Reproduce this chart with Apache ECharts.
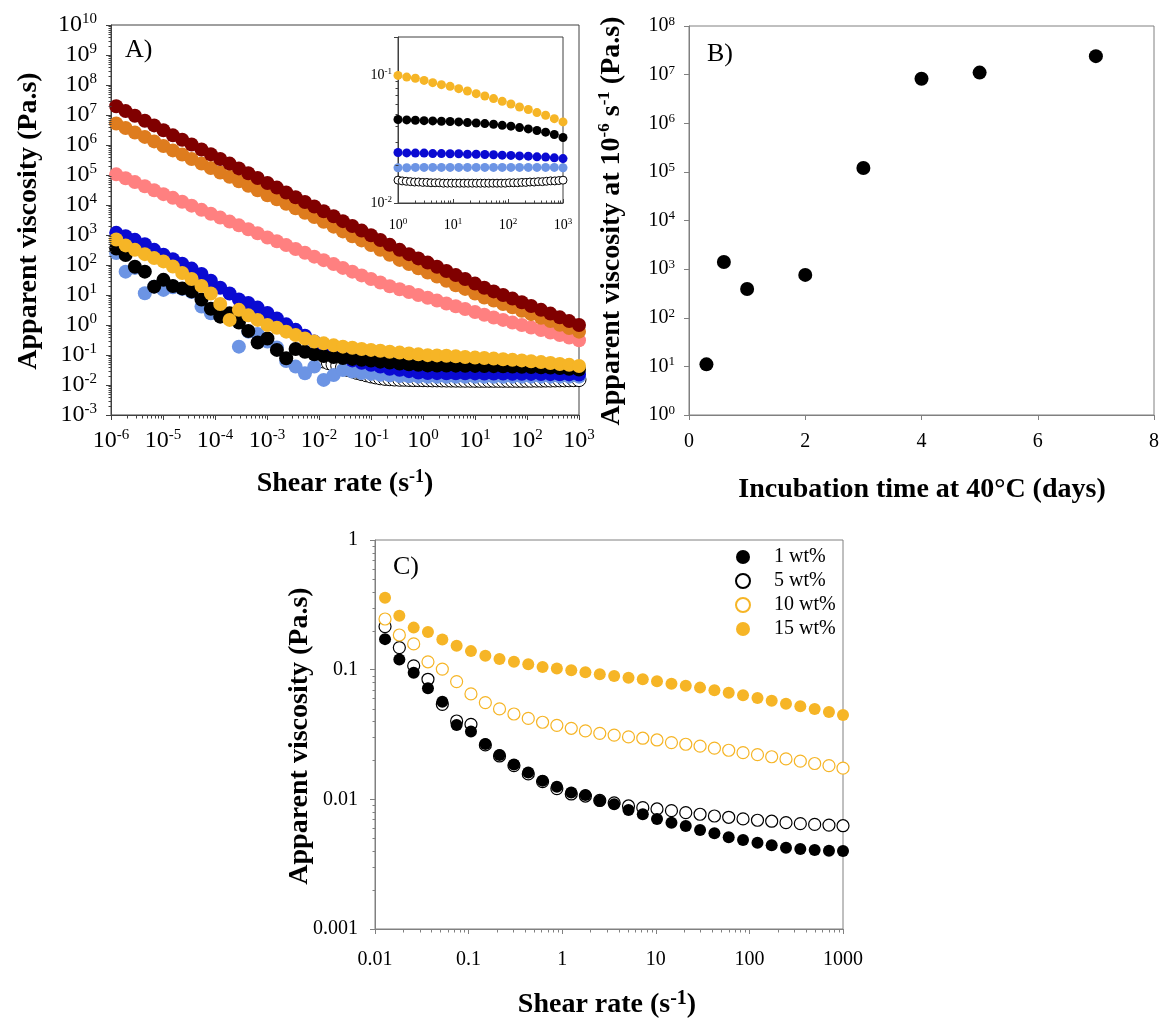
<!DOCTYPE html>
<html><head><meta charset="utf-8">
<script src="https://cdn.jsdelivr.net/npm/echarts@6/dist/echarts.min.js"></script>
<style>html,body{margin:0;padding:0;background:#fff}#c{width:1162px;height:1023px}</style>
</head><body><div id="c"></div><script>
// ---------------- DATA ----------------
// Panel A: shear-rate sweep (x: shear rate, s^-1)
const aX = [1.26e-6,1.91e-6,2.88e-6,4.47e-6,6.76e-6,1.02e-5,1.55e-5,2.34e-5,3.55e-5,5.50e-5,8.32e-5,1.26e-4,1.91e-4,2.88e-4,4.37e-4,6.61e-4,1.02e-3,1.55e-3,2.34e-3,3.55e-3,5.37e-3,8.13e-3,1.23e-2,1.91e-2,2.88e-2,4.37e-2,6.61e-2,0.100,0.151,0.229,0.355,0.537,0.813,1.23,1.86,2.82,4.27,6.46,10.0,15.1,22.9,34.7,52.5,79.4,120,186,282,427,646,1000];
const aDarkRed = [1.95e7,1.35e7,9.4e6,6.4e6,4.5e6,3.1e6,2.1e6,1.5e6,1.04e6,7.1e5,4.9e5,3.4e5,2.4e5,1.66e5,1.15e5,7.9e4,5.4e4,3.8e4,2.6e4,1.82e4,1.26e4,8.9e3,6.2e3,4.2e3,2.9e3,2.0e3,1.4e3,980,680,470,320,230,166,120,87,63,46,34,24,17.4,13.2,10,7.6,5.7,4.3,3.2,2.4,1.8,1.35,1.0];
const aOrange = [5.2e6,3.7e6,2.6e6,1.86e6,1.32e6,9.3e5,6.6e5,4.8e5,3.4e5,2.4e5,1.7e5,1.2e5,8.7e4,6.2e4,4.4e4,3.1e4,2.1e4,1.55e4,1.1e4,7.8e3,5.5e3,4.0e3,2.75e3,1.9e3,1.32e3,910,660,460,320,220,148,107,78,56,41,30,21,16,11.2,8.3,6.5,5.0,3.9,3.0,2.3,1.74,1.35,1.02,0.79,0.60];
const aSalmon = [1.05e5,7.8e4,5.8e4,4.2e4,3.1e4,2.3e4,1.73e4,1.28e4,9.5e3,6.9e3,5.1e3,3.8e3,2.8e3,2.1e3,1.55e3,1.15e3,830,620,460,340,255,190,145,107,80,60,45,34,26,19.5,15.5,12.6,10,8.1,6.5,5.2,4.2,3.4,2.7,2.2,1.78,1.48,1.2,1.0,0.83,0.68,0.56,0.46,0.38,0.31];
const aBlue = [1180,910,690,490,320,220,155,110,76,50,30,17.4,11.2,7.1,5.4,3.8,2.5,1.66,1.05,0.69,0.44,0.28,0.186,0.126,0.089,0.066,0.055,0.047,0.041,0.035,0.032,0.029,0.026,0.0249,0.0248,0.0247,0.0246,0.0245,0.0244,0.0243,0.0241,0.0240,0.0238,0.0236,0.0234,0.0232,0.0230,0.0228,0.0226,0.0223];
const aBlack = [355,214,87,60,19,32,20,16.6,13.2,7.1,3.5,1.9,2.45,1.2,0.63,0.26,0.355,0.148,0.078,0.158,0.129,0.105,0.093,0.085,0.079,0.074,0.069,0.065,0.060,0.056,0.052,0.049,0.047,0.045,0.0448,0.0445,0.0442,0.0438,0.0434,0.043,0.0425,0.042,0.0414,0.0408,0.040,0.0391,0.038,0.0367,0.0348,0.0326];
const aLightBlue = [250,60,80,11.5,19,14.8,18,16,12.6,4.1,2.45,2.0,2.3,0.19,0.6,0.5,0.28,0.178,0.063,0.041,0.0245,0.041,0.0148,0.0214,0.0316,0.028,0.025,0.0234,0.0219,0.0209,0.020,0.0195,0.019,0.0189,0.0189,0.0189,0.0189,0.0189,0.0189,0.0189,0.0189,0.0189,0.019,0.019,0.019,0.019,0.019,0.019,0.019,0.019];
const aYellow = [710,450,320,230,170,132,89,54,34,20,11.2,5.0,1.48,3.2,2.1,1.48,1.0,0.81,0.60,0.46,0.355,0.28,0.245,0.21,0.19,0.174,0.158,0.148,0.138,0.129,0.120,0.112,0.105,0.099,0.097,0.094,0.090,0.086,0.082,0.079,0.076,0.072,0.069,0.066,0.062,0.058,0.054,0.050,0.047,0.043];
const aWhiteX = [0.0123,0.0151,0.0186,0.0229,0.0282,0.0355,0.0437,0.0537,0.0661,0.0813,0.100,0.123,0.151,0.186,0.229,0.282,0.355,0.437,0.537,0.661,0.813,1.00,1.23,1.51,1.86,2.29,2.82,3.47,4.27,5.25,6.46,8.13,10.0,12.3,15.1,18.6,22.9,28.2,34.7,42.7,52.5,64.6,79.4,97.7,120,151,186,229,282,347,427,525,646,794,1000];
const aWhite = [0.063,0.056,0.049,0.044,0.038,0.033,0.0295,0.0263,0.024,0.0219,0.020,0.0186,0.0174,0.0166,0.0162,0.0158,0.0155,0.0155,0.0153,0.0151,0.0151,0.0150,0.0149,0.0148,0.0148,0.0147,0.0146,0.0146,0.0145,0.0145,0.0144,0.0144,0.0143,0.0143,0.0143,0.0143,0.0143,0.0143,0.0143,0.0143,0.0143,0.0143,0.0143,0.0144,0.0144,0.0145,0.0145,0.0146,0.0146,0.0147,0.0148,0.0148,0.0149,0.0150,0.0151];

// Panel A inset (x: 1..1000 s^-1)
const insX = [1,1.44,2.07,2.98,4.28,6.16,8.86,12.7,18.3,26.4,37.9,54.6,78.5,113,162,234,336,483,695,1000];
const insYellow = [0.100,0.097,0.095,0.0914,0.0877,0.0846,0.0821,0.0787,0.0755,0.0719,0.069,0.0658,0.0626,0.0597,0.0566,0.054,0.0511,0.0487,0.0458,0.0432];
const insBlack = [0.0451,0.0448,0.0445,0.0442,0.0440,0.0437,0.0435,0.0432,0.0427,0.0424,0.0419,0.0414,0.0406,0.0400,0.039,0.0381,0.037,0.0359,0.0344,0.0326];
const insBlue = [0.0249,0.0247,0.0246,0.0246,0.0244,0.0244,0.0243,0.0243,0.0241,0.0241,0.0240,0.0239,0.0237,0.0236,0.0234,0.0233,0.0230,0.0229,0.0226,0.0223];
const insLightBlue = [0.0189,0.0189,0.019,0.019,0.019,0.019,0.019,0.019,0.019,0.019,0.019,0.019,0.019,0.019,0.019,0.019,0.019,0.019,0.019,0.0189];
const insWhiteX = [1,1.19,1.41,1.68,2.0,2.37,2.82,3.35,3.98,4.73,5.62,6.68,7.94,9.44,11.2,13.3,15.8,18.8,22.4,26.6,31.6,37.6,44.7,53.1,63.1,75.0,89.1,106,126,150,178,211,251,299,355,422,501,596,708,841,1000];
const insWhite = [0.0151,0.0149,0.0148,0.0147,0.0146,0.0146,0.0145,0.0145,0.0144,0.0144,0.0144,0.0143,0.0143,0.0143,0.0143,0.0143,0.0143,0.0143,0.0143,0.0143,0.0143,0.0143,0.0143,0.0143,0.0143,0.0143,0.0143,0.0144,0.0144,0.0144,0.0145,0.0145,0.0146,0.0146,0.0147,0.0147,0.0148,0.0149,0.0149,0.0150,0.0151];

// Panel B: viscosity at 1e-6 s^-1 vs incubation time
const bDays = [0.3,0.6,1,2,3,4,5,7];
const bVisc = [11,1400,390,760,1.2e5,8.2e6,1.1e7,2.4e7];

// Panel C: concentration series
const cX = [0.0128,0.0182,0.0259,0.0368,0.0524,0.0745,0.106,0.151,0.214,0.305,0.434,0.617,0.877,1.25,1.77,2.52,3.59,5.11,7.26,10.3,14.7,20.9,29.7,42.3,60.1,85.5,122,173,246,350,498,708,1000];
const c1 = [0.172,0.120,0.0948,0.0718,0.0566,0.0375,0.0333,0.0267,0.0220,0.0186,0.0161,0.0139,0.0125,0.0113,0.0108,0.00977,0.00916,0.00828,0.00767,0.00706,0.00661,0.00623,0.00581,0.00547,0.00509,0.00486,0.00463,0.00442,0.00424,0.00414,0.00407,0.00402,0.0040];
const c5 = [0.215,0.148,0.107,0.0843,0.054,0.0402,0.0379,0.0263,0.0216,0.0182,0.0157,0.0137,0.0121,0.0110,0.0106,0.0098,0.0094,0.00889,0.00863,0.00843,0.00818,0.00789,0.00767,0.00744,0.00727,0.00706,0.0069,0.00678,0.00661,0.00649,0.00641,0.00633,0.00626];
const c10 = [0.246,0.185,0.158,0.115,0.101,0.0809,0.065,0.0557,0.0498,0.0455,0.0421,0.0393,0.0372,0.0353,0.0337,0.0323,0.0313,0.0303,0.0296,0.0287,0.0274,0.0266,0.0257,0.0248,0.0239,0.0229,0.0221,0.0213,0.0205,0.0197,0.0189,0.0182,0.0174];
const c15 = [0.359,0.261,0.211,0.195,0.171,0.153,0.139,0.128,0.121,0.115,0.110,0.105,0.102,0.0988,0.0955,0.092,0.0894,0.0867,0.0843,0.0813,0.078,0.0753,0.0727,0.0694,0.0665,0.0634,0.0605,0.0577,0.0547,0.0522,0.0498,0.0472,0.0448];
const cLegend = ['1 wt%','5 wt%','10 wt%','15 wt%'];

// Tick labels / tick values
const aYTickVals = [1e-3,1e-2,1e-1,1e0,1e1,1e2,1e3,1e4,1e5,1e6,1e7,1e8,1e9,1e10];
const cXTicks = ['0.01','0.1','1','10','100','1000'];
const cYTicks = ['0.001','0.01','0.1','1'];
const bXTicks = ['0','2','4','6','8'];

// ---------------- STYLE ----------------
const SERIF = '"Liberation Serif","Times New Roman",serif';
const A_AX = '#404040', BC_AX = '#808080';
const COL = {darkred:'#800000', orange:'#de7c1e', salmon:'#ff8080', blue:'#0a0ad2', lightblue:'#6c94e4', black:'#000000', yellow:'#f6b526'};

function pairs(xs, ys){ return xs.map((x,i)=>[x, ys[i]]); }
function pow10(v){ const e=Math.log10(v), r=Math.round(e); if(Math.abs(e-r)>1e-6) return ''; return '10{sup|'+r+'}'; }
function lookup(list){ return v => { for(const s of list){ if(Math.abs(Math.log10(v)-Math.log10(parseFloat(s)))<1e-6) return s; } return ''; }; }

function logAxis(grid, min, max, split, color, lab, tickLen, inside){
  return {type:'log', logBase:10, gridIndex:grid, min, max, splitNumber:split,
    axisLine:{show:true, onZero:false, lineStyle:{color, width:1}},
    axisTick:{show:true, inside:!!inside, length:tickLen, lineStyle:{color, width:1}},
    splitLine:{show:false}, minorTick:{show:false},
    axisLabel:lab};
}
function supLabel(size, supSize, margin, lh){
  return {formatter:pow10, fontFamily:SERIF, fontSize:size, color:'#000', margin, lineHeight:lh,
    rich:{sup:{fontFamily:SERIF, fontSize:supSize, color:'#000', verticalAlign:'top', lineHeight:supSize}}};
}
function minorVals(e0, e1, max){
  const out=[]; for(let e=e0;e<e1;e++){ for(let k=2;k<=9;k++){ const v=k*Math.pow(10,e); if(v<=max*1.0001) out.push(v);} } return out;
}
function minorSeries(xi, yi, which, vals, fixed, len, color){
  return {type:'custom', xAxisIndex:xi, yAxisIndex:yi, silent:true, clip:false, z:3, animation:false,
    data: vals.map(v => which==='x' ? [v, fixed] : [fixed, v]),
    renderItem:(params, api)=>{
      const p = api.coord([api.value(0), api.value(1)]);
      const x = Math.round(p[0])+0.5, y = Math.round(p[1])+0.5;
      const shape = which==='x' ? {x1:x,y1:y,x2:x,y2:y+len} : {x1:x,y1:y,x2:x-len,y2:y};
      return {type:'line', shape, style:{stroke:color, lineWidth:1}};
    }};
}
// fallback: decade ticks + labels of panel A's y axis drawn through the axis scale
function majorYSeries(vals, fixedX, len, color, margin){
  return {type:'custom', xAxisIndex:0, yAxisIndex:0, silent:true, clip:false, z:3, animation:false,
    data: vals.map(v => [fixedX, v]),
    renderItem:(params, api)=>{
      const p = api.coord([api.value(0), api.value(1)]);
      const x = Math.round(p[0])+0.5, y = Math.round(p[1])+0.5;
      return {type:'group', children:[
        {type:'line', shape:{x1:x,y1:y,x2:x-len,y2:y}, style:{stroke:color, lineWidth:1}},
        {type:'text', x:p[0]-margin, y:p[1], style:{text:pow10(api.value(1)), fontFamily:SERIF, fontSize:24, fill:'#000',
          align:'right', verticalAlign:'middle', lineHeight:26,
          rich:{sup:{fontFamily:SERIF, fontSize:15, fill:'#000', verticalAlign:'top', lineHeight:15}}}}
      ]};
    }};
}
function scat(name, xi, data, size, fill, stroke, bw){
  return {type:'scatter', name, xAxisIndex:xi, yAxisIndex:xi, data, symbol:'circle', symbolSize:size,
    itemStyle:{color:fill, borderColor:stroke||fill, borderWidth:bw||0, opacity:1},
    emphasis:{disabled:true}, animation:false, z:2};
}

const chart = echarts.init(document.getElementById('c'), null, {renderer:'canvas'});
const aYAxis = logAxis(0, 1e-3, 1e10, 13, A_AX, supLabel(24, 15, 14, 26), 5);
aYAxis.interval = 1;
const option = {
  backgroundColor:'#ffffff',
  animation:false,
  grid:[
    {left:111, top:25, width:468, height:390, show:true, borderColor:A_AX, borderWidth:1, backgroundColor:'transparent'},
    {left:398, top:37, width:165, height:166, show:true, borderColor:A_AX, borderWidth:1, backgroundColor:'transparent'},
    {left:689, top:26, width:468, height:389, show:true, borderColor:BC_AX, borderWidth:1, backgroundColor:'transparent'},
    {left:375, top:540, width:468, height:389, show:true, borderColor:BC_AX, borderWidth:1, backgroundColor:'transparent'}
  ],
  xAxis:[
    logAxis(0, 1e-6, 1e3, 9, A_AX, supLabel(24, 15, 13, 26), 5),
    logAxis(1, 1, 1e3, 3, A_AX, supLabel(14, 9, 14, 16), 4, true),
    {type:'value', gridIndex:2, min:0, max:8, interval:2,
      axisLine:{show:true, onZero:false, lineStyle:{color:BC_AX}}, axisTick:{show:true, length:5, lineStyle:{color:BC_AX}},
      splitLine:{show:false}, axisLabel:{fontFamily:SERIF, fontSize:20, color:'#000', margin:17, formatter:v=>bXTicks[Math.round(v/2)] ?? ''}},
    logAxis(3, 0.01, 1000, 5, BC_AX, {fontFamily:SERIF, fontSize:20, color:'#000', margin:21, formatter:lookup(cXTicks)}, 5)
  ],
  yAxis:[
    aYAxis,
    logAxis(1, 0.01, 0.2, 2, A_AX, supLabel(14, 9, 6, 16), 4),
    logAxis(2, 1, 1e8, 8, BC_AX, supLabel(20, 13, 14, 22), 5),
    logAxis(3, 0.001, 1, 3, BC_AX, {fontFamily:SERIF, fontSize:20, color:'#000', margin:17, formatter:lookup(cYTicks)}, 5)
  ],
  legend:{data:cLegend, orient:'vertical', left:730, top:542, itemWidth:14, itemHeight:14, itemGap:4, icon:'circle',
    selectedMode:false, textStyle:{fontFamily:SERIF, fontSize:20, color:'#000', padding:[0,0,0,19]}},
  series:[
    // Panel A (bottom to top)
    scat('aWhite', 0, pairs(aWhiteX, aWhite), 14, '#ffffff', '#000000', 1),
    scat('aLightBlue', 0, pairs(aX, aLightBlue), 14, COL.lightblue),
    scat('aBlue', 0, pairs(aX, aBlue), 14, COL.blue),
    scat('aBlack', 0, pairs(aX, aBlack), 14, COL.black),
    scat('aYellow', 0, pairs(aX, aYellow), 14, COL.yellow),
    scat('aSalmon', 0, pairs(aX, aSalmon), 14, COL.salmon),
    scat('aOrange', 0, pairs(aX, aOrange), 14, COL.orange),
    scat('aDarkRed', 0, pairs(aX, aDarkRed), 14, COL.darkred),
    // Inset
    scat('iWhite', 1, pairs(insWhiteX, insWhite), 8, '#ffffff', '#000000', 1),
    scat('iLightBlue', 1, pairs(insX, insLightBlue), 9, COL.lightblue),
    scat('iBlue', 1, pairs(insX, insBlue), 9, COL.blue),
    scat('iBlack', 1, pairs(insX, insBlack), 9, COL.black),
    scat('iYellow', 1, pairs(insX, insYellow), 9, COL.yellow),
    // Panel B
    scat('bVisc', 2, pairs(bDays, bVisc), 14, '#000000'),
    // Panel C
    scat('5 wt%', 3, pairs(cX, c5), 12, '#ffffff', '#000000', 1.2),
    scat('1 wt%', 3, pairs(cX, c1), 12, '#000000'),
    scat('10 wt%', 3, pairs(cX, c10), 12, '#ffffff', COL.yellow, 1.2),
    scat('15 wt%', 3, pairs(cX, c15), 12, COL.yellow),
    // minor log ticks
    minorSeries(0, 0, 'x', minorVals(-6, 3, 1e3), 1e-3, 3, A_AX),
    minorSeries(0, 0, 'y', minorVals(-3, 10, 1e10), 1e-6, 3, A_AX),
    minorSeries(1, 1, 'x', minorVals(0, 3, 1e3), 0.01, -3, A_AX),
    minorSeries(1, 1, 'y', minorVals(-2, 0, 0.2), 1, 3, A_AX),
    minorSeries(3, 3, 'x', minorVals(-2, 3, 1e3), 0.001, 3, BC_AX),
    minorSeries(3, 3, 'y', minorVals(-3, 0, 1), 0.01, 3, BC_AX)
  ],
  graphic:[
    {type:'text', x:125, y:50, style:{text:'A)', fontFamily:SERIF, fontSize:26, fill:'#000', align:'left', verticalAlign:'middle'}},
    {type:'text', x:707, y:54, style:{text:'B)', fontFamily:SERIF, fontSize:26, fill:'#000', align:'left', verticalAlign:'middle'}},
    {type:'text', x:393, y:567, style:{text:'C)', fontFamily:SERIF, fontSize:26, fill:'#000', align:'left', verticalAlign:'middle'}},
    {type:'text', x:29, y:221, rotation:Math.PI/2, style:{text:'Apparent viscosity (Pa.s)', fontFamily:SERIF, fontWeight:'bold', fontSize:28, fill:'#000', align:'center', verticalAlign:'middle'}},
    {type:'text', x:345, y:484, style:{text:'Shear rate (s{sup|-1})', fontFamily:SERIF, fontWeight:'bold', fontSize:28, fill:'#000', align:'center', verticalAlign:'middle', lineHeight:32,
      rich:{sup:{fontFamily:SERIF, fontWeight:'bold', fontSize:18, fill:'#000', verticalAlign:'top', lineHeight:18}}}},
    {type:'text', x:612, y:221, rotation:Math.PI/2, style:{text:'Apparent viscosity at 10{sup|-6} s{sup|-1} (Pa.s)', fontFamily:SERIF, fontWeight:'bold', fontSize:28, fill:'#000', align:'center', verticalAlign:'middle', lineHeight:32,
      rich:{sup:{fontFamily:SERIF, fontWeight:'bold', fontSize:17, fill:'#000', verticalAlign:'top', lineHeight:17}}}},
    {type:'text', x:922, y:490, style:{text:'Incubation time at 40°C (days)', fontFamily:SERIF, fontWeight:'bold', fontSize:28, fill:'#000', align:'center', verticalAlign:'middle'}},
    {type:'text', x:300, y:736, rotation:Math.PI/2, style:{text:'Apparent viscosity (Pa.s)', fontFamily:SERIF, fontWeight:'bold', fontSize:28, fill:'#000', align:'center', verticalAlign:'middle'}},
    {type:'text', x:607, y:1005, style:{text:'Shear rate (s{sup|-1})', fontFamily:SERIF, fontWeight:'bold', fontSize:28, fill:'#000', align:'center', verticalAlign:'middle', lineHeight:32,
      rich:{sup:{fontFamily:SERIF, fontWeight:'bold', fontSize:20, fill:'#000', verticalAlign:'top', lineHeight:20}}}}
  ]
};
chart.setOption(option);

// If the log scale did not produce a tick at every decade on panel A's y axis,
// draw the decade ticks/labels through the same axis scale instead.
let needFallback = false;
try {
  const ax = chart.getModel().getComponent('yAxis', 0).axis;
  const n = ax.scale.getTicks().length;
  if (n < aYTickVals.length) needFallback = true;
} catch (e) { needFallback = true; }
if (needFallback) {
  option.yAxis[0].axisLabel = Object.assign({}, option.yAxis[0].axisLabel, {show:false});
  option.yAxis[0].axisTick = Object.assign({}, option.yAxis[0].axisTick, {show:false});
  option.series.push(majorYSeries(aYTickVals, 1e-6, 5, A_AX, 14));
  chart.setOption(option, true);
}
</script></body></html>
